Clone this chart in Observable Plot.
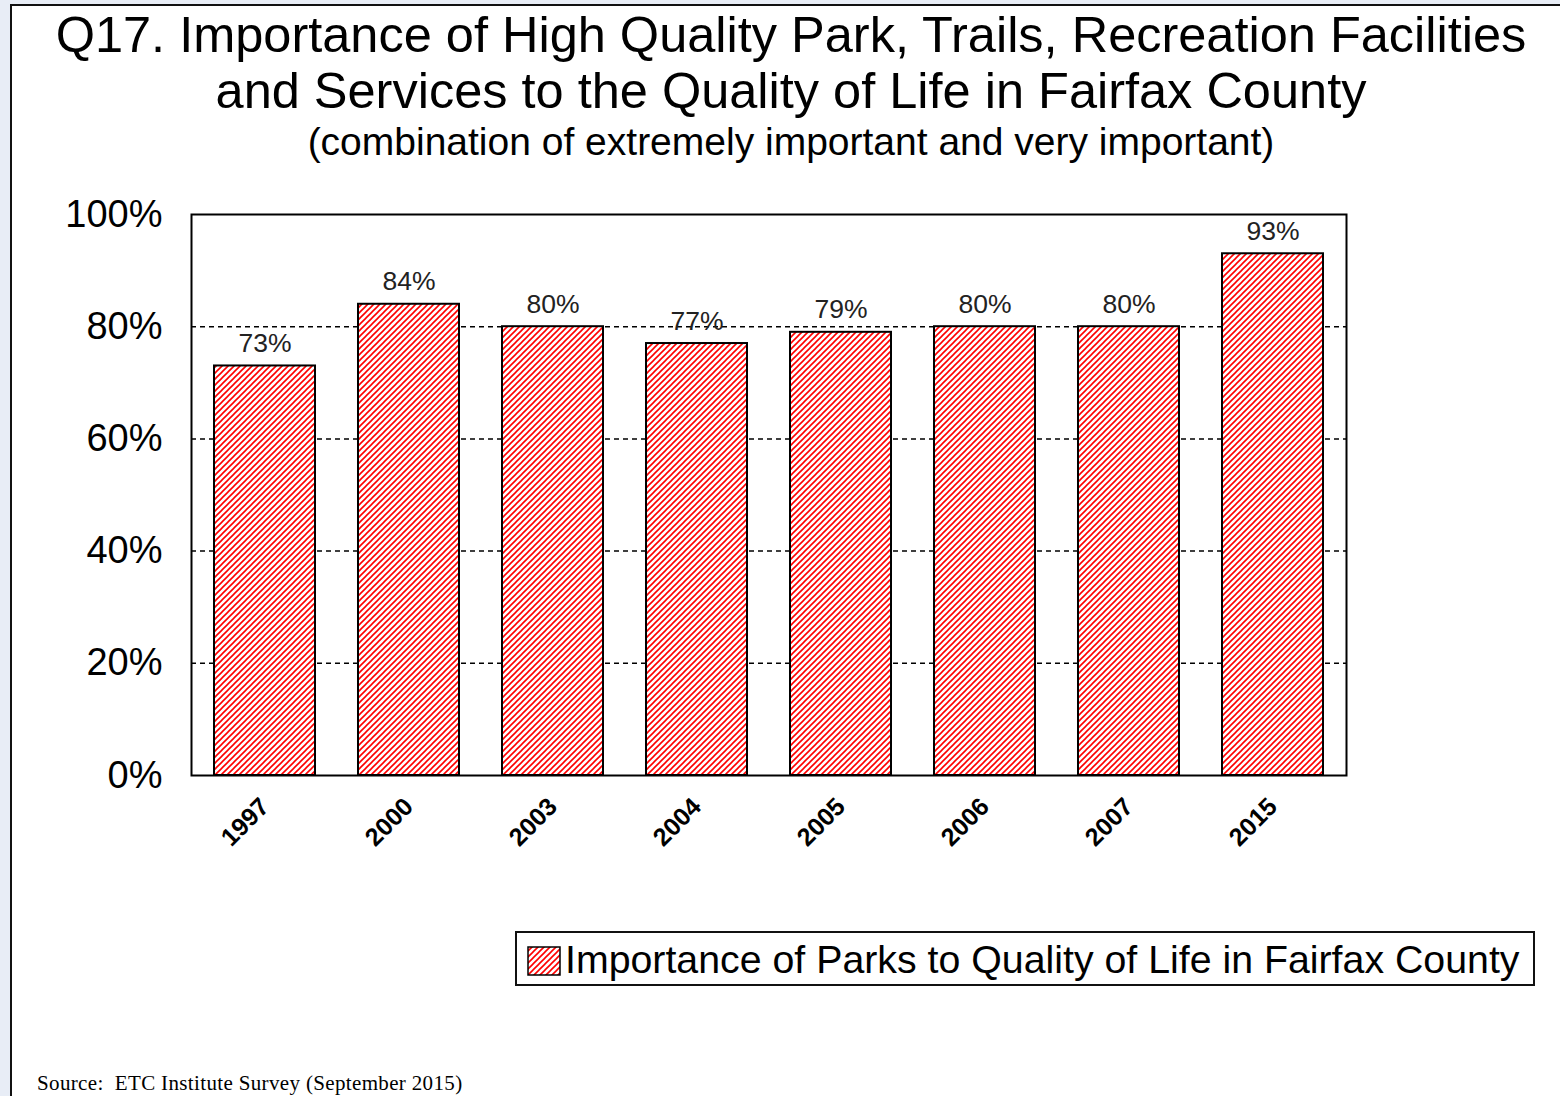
<!DOCTYPE html>
<html>
<head>
<meta charset="utf-8">
<script src="https://cdn.jsdelivr.net/npm/d3@7"></script>
<script src="https://cdn.jsdelivr.net/npm/@observablehq/plot@0.6"></script>
<style>
  html, body { margin: 0; padding: 0; }
  body { width: 1560px; height: 1096px; background: #e8edf6; position: relative; overflow: hidden; font-family: "Liberation Sans", Arial, sans-serif; }
  #panel { position: absolute; left: 10px; top: 4px; width: 1600px; height: 1200px; background: #fff; border-left: 2px solid #111; border-top: 2px solid #111; }
  .t { position: absolute; left: 0; width: 1582px; text-align: center; line-height: 1; color: #000; white-space: nowrap; }
  #chart { position: absolute; left: 0; top: 180px; }
  #legend { position: absolute; left: 515px; top: 931px; width: 1016px; height: 51px; border: 2px solid #111; background: #fff; }
  #legtext { position: absolute; left: 565px; top: 940px; font-size: 39.3px; line-height: 1; white-space: nowrap; color: #000; }
  #swatch { position: absolute; left: 527px; top: 946px; }
  #source { position: absolute; left: 37px; top: 1073px; font-family: "Liberation Serif", "Times New Roman", serif; font-size: 21px; letter-spacing: 0.35px; line-height: 1; white-space: nowrap; color: #000; }
</style>
</head>
<body>
<svg width="0" height="0" style="position:absolute">
  <defs>
    <pattern id="hatch" patternUnits="userSpaceOnUse" width="6" height="6">
      <rect width="6" height="6" fill="#fff"></rect>
      <path d="M-1,1 l2,-2 M0,6 l6,-6 M5,7 l2,-2" stroke="#ff0000" stroke-width="1.6"></path>
    </pattern>
  </defs>
</svg>
<div id="panel"></div>
<div class="t" style="top:10px;font-size:50.5px;">Q17. Importance of High Quality Park, Trails, Recreation Facilities</div>
<div class="t" style="top:66px;font-size:50.5px;">and Services to the Quality of Life in Fairfax County</div>
<div class="t" style="top:122px;font-size:39px;">(combination of extremely important and very important)</div>
<div id="chart"></div>
<div id="legend"></div>
<svg id="swatch" width="34" height="30"><rect x="1" y="1" width="32" height="28" fill="url(#hatch)" stroke="#000" stroke-width="1.5"></rect></svg>
<div id="legtext">Importance of Parks to Quality of Life in Fairfax County</div>
<div id="source">Source:&nbsp; ETC Institute Survey (September 2015)</div>
<script>
const years = ["1997", "2000", "2003", "2004", "2005", "2006", "2007", "2015"];
const values = [73, 84, 80, 77, 79, 80, 80, 93];
const yTicks = [0, 20, 40, 60, 80, 100];
const gridTicks = [20, 40, 60, 80];

const data = years.map((y, i) => ({year: y, value: values[i]}));

const chart = Plot.plot({
  width: 1560,
  height: 700,
  marginTop: 34,
  marginBottom: 105,
  marginLeft: 191,
  marginRight: 214,
  style: {background: "transparent", fontFamily: "'Liberation Sans', Arial, sans-serif", color: "#000", overflow: "visible"},
  x: {domain: years, paddingInner: 0.3, paddingOuter: 0.16, label: null},
  y: {domain: [0, 100], label: null},
  marks: [
    Plot.ruleY(gridTicks, {stroke: "#000", strokeWidth: 1.5, strokeDasharray: "5,4"}),
    Plot.barY(data, {x: "year", y: "value", fill: "url(#hatch)", stroke: "#000", strokeWidth: 2}),
    Plot.text(data, {x: "year", y: "value", text: d => d.value + "%", dy: -14, lineAnchor: "bottom", fontSize: 26.5, fill: "#222"}),
    Plot.frame({stroke: "#000", strokeWidth: 2}),
    Plot.axisY({ticks: yTicks, tickFormat: d => d + "%", tickSize: 0, tickPadding: 29, fontSize: 38, label: null}),
    Plot.axisX({tickRotate: -45, tickSize: 0, tickPadding: 27, fontSize: 25, fontWeight: "bold", label: null})
  ]
});
document.getElementById("chart").appendChild(chart);
</script>
</body>
</html>
